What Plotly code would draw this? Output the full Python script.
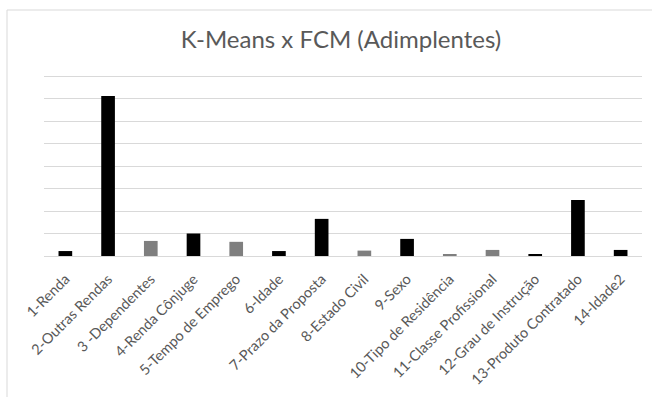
import plotly.graph_objects as go

categories = ["1-Renda", "2-Outras Rendas", "3 -Dependentes", "4-Renda Cônjuge",
              "5-Tempo de Emprego", "6-Idade", "7-Prazo da Proposta", "8-Estado Civil",
              "9-Sexo", "10-Tipo de Residência", "11-Classe Profissional",
              "12-Grau de Instrução", "13-Produto Contratado", "14-Idade2"]
values = [0.22, 7.11, 0.67, 1.0, 0.63, 0.22, 1.65, 0.24, 0.76, 0.09, 0.27, 0.09, 2.49, 0.27]
groups = ["k", "k", "g", "k", "g", "k", "k", "g", "k", "g", "g", "k", "k", "k"]

palette = {"k": "#000000", "g": "#7f7f7f"}
colors = [palette[g] for g in groups]

fig = go.Figure(go.Bar(x=categories, y=values, marker=dict(color=colors, line=dict(width=0)),
                       hoverinfo="x+y"))

W, H = 652, 397
L, R, T, B = 44, 10, 72, 141
pw = W - L - R
ph = H - T - B
ymax = 8 * ph / 180.0  # 8 units span 180 px

fig.update_layout(
    width=W, height=H,
    margin=dict(l=L, r=R, t=T, b=B, autoexpand=False),
    paper_bgcolor="white", plot_bgcolor="white",
    bargap=0.68,
    showlegend=False,
    font=dict(family="Lato, Carlito, Calibri, sans-serif", color="#595959"),
    title=dict(text="K-Means x FCM (Adimplentes)", x=(341) / W, xanchor="center",
               y=1 - 40 / H, yanchor="middle",
               font=dict(size=24, color="#595959", family="Lato, Carlito, Calibri, sans-serif")),
    xaxis=dict(tickangle=-45, tickfont=dict(size=14.5, color="#595959"),
               showline=True, linecolor="#d9d9d9", linewidth=1, ticks="",
               showgrid=False, automargin=False, ticklabelstandoff=8),
    yaxis=dict(range=[0, ymax], tickvals=[1, 2, 3, 4, 5, 6, 7, 8], showticklabels=False,
               showgrid=True, gridcolor="#d9d9d9", gridwidth=1, zeroline=False, ticks="",
               automargin=False),
    shapes=[dict(type="rect", xref="paper", yref="paper",
                 x0=(7 - L) / pw, x1=(W + 20 - L) / pw,
                 y0=-(H + 20 - (H - B)) / ph, y1=(H - B - 10) / ph,
                 line=dict(color="#d9d9d9", width=1), fillcolor="rgba(0,0,0,0)",
                 layer="below")],
)

fig.write_html("out.html", config={"displayModeBar": False},
               post_script="document.body.style.margin='0px';")
